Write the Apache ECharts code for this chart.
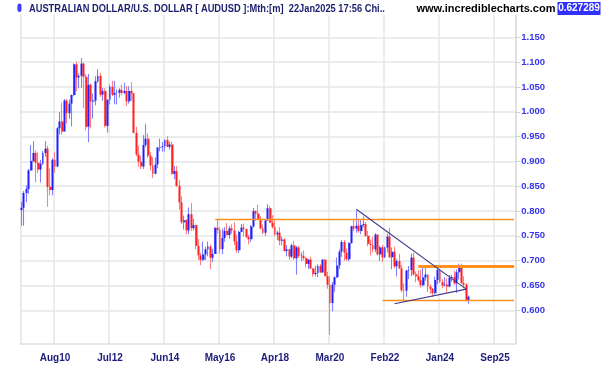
<!DOCTYPE html>
<html><head><meta charset="utf-8">
<script src="https://cdn.jsdelivr.net/npm/echarts@6/dist/echarts.min.js"></script>
<style>html,body{margin:0;padding:0;background:#fff;}#c{width:602px;height:365px;}</style>
</head><body><div id="c"></div>
<script>
// ---- data: monthly AUDUSD, Jun 2009 .. Jan 2025 ----
const firstMonth = [2009, 6];
const monthCount = 207; // axis runs to Aug 2026 (empty future space)
const opens = [
 0.8020,0.8065,0.8364,0.8443,0.8819,0.9010,0.9170,
 0.8975,0.8836,0.8954,0.9170,0.9258,0.8487,0.8424,0.9033,0.8897,0.9667,0.9804,0.9601,
 1.0225,0.9972,1.0165,1.0338,1.0956,1.0694,1.0724,1.0970,1.0703,0.9698,1.0543,1.0206,
 1.0227,1.0615,1.0723,1.0345,1.0420,0.9716,1.0243,1.0504,1.0344,1.0380,1.0383,1.0441,
 1.0378,1.0419,1.0210,1.0418,1.0371,0.9576,0.9136,0.8993,0.8898,0.9330,0.9458,0.9113,
 0.8917,0.8752,0.8939,0.9280,0.9292,0.9304,0.9433,0.9294,0.9341,0.8748,0.8805,0.8507,
 0.8175,0.7774,0.7815,0.7611,0.7937,0.7656,0.7717,0.7297,0.7107,0.7016,0.7127,0.7226,
 0.7286,0.7060,0.7137,0.7662,0.7618,0.7231,0.7457,0.7601,0.7516,0.7651,0.7607,0.7390,
 0.7210,0.7580,0.7666,0.7637,0.7480,0.7432,0.7690,0.7996,0.7947,0.7834,0.7651,0.7562,
 0.7809,0.8057,0.7764,0.7679,0.7528,0.7565,0.7402,0.7425,0.7193,0.7229,0.7082,0.7310,
 0.7048,0.7266,0.7095,0.7099,0.7052,0.6935,0.7022,0.6842,0.6732,0.6752,0.6894,0.6763,
 0.7021,0.6688,0.6515,0.6148,0.6516,0.6666,0.6903,0.7183,0.7377,0.7163,0.7029,0.7356,
 0.7694,0.7646,0.7704,0.7597,0.7720,0.7737,0.7500,0.7340,0.7315,0.7227,0.7522,0.7126,
 0.7267,0.7068,0.7263,0.7485,0.7069,0.7179,0.6886,0.6992,0.6842,0.6402,0.6397,0.6802,
 0.6812,0.7061,0.6726,0.6686,0.6607,0.6505,0.6662,0.6719,0.6478,0.6432,0.6346,0.6610,
 0.6812,0.6568,0.6502,0.6519,0.6479,0.6653,0.6670,0.6543,0.6766,0.6913,0.6549,0.6514,
 0.6188];
const closes = [
 0.8065,0.8364,0.8443,0.8819,0.9010,0.9170,0.8975,
 0.8836,0.8954,0.9170,0.9258,0.8487,0.8424,0.9033,0.8897,0.9667,0.9804,0.9601,1.0225,
 0.9972,1.0165,1.0338,1.0956,1.0694,1.0724,1.0970,1.0703,0.9698,1.0543,1.0206,1.0227,
 1.0615,1.0723,1.0345,1.0420,0.9716,1.0243,1.0504,1.0344,1.0380,1.0383,1.0441,1.0378,
 1.0419,1.0210,1.0418,1.0371,0.9576,0.9136,0.8993,0.8898,0.9330,0.9458,0.9113,0.8917,
 0.8752,0.8939,0.9280,0.9292,0.9304,0.9433,0.9294,0.9341,0.8748,0.8805,0.8507,0.8175,
 0.7774,0.7815,0.7611,0.7937,0.7656,0.7717,0.7297,0.7107,0.7016,0.7127,0.7226,0.7286,
 0.7060,0.7137,0.7662,0.7618,0.7231,0.7457,0.7601,0.7516,0.7651,0.7607,0.7390,0.7210,
 0.7580,0.7666,0.7637,0.7480,0.7432,0.7690,0.7996,0.7947,0.7834,0.7651,0.7562,0.7809,
 0.8057,0.7764,0.7679,0.7528,0.7565,0.7402,0.7425,0.7193,0.7229,0.7082,0.7310,0.7048,
 0.7266,0.7095,0.7099,0.7052,0.6935,0.7022,0.6842,0.6732,0.6752,0.6894,0.6763,0.7021,
 0.6688,0.6515,0.6148,0.6516,0.6666,0.6903,0.7183,0.7377,0.7163,0.7029,0.7356,0.7694,
 0.7646,0.7704,0.7597,0.7720,0.7737,0.7500,0.7340,0.7315,0.7227,0.7522,0.7126,0.7267,
 0.7068,0.7263,0.7485,0.7069,0.7179,0.6886,0.6992,0.6842,0.6402,0.6397,0.6802,0.6812,
 0.7061,0.6726,0.6686,0.6607,0.6505,0.6662,0.6719,0.6478,0.6432,0.6346,0.6610,0.6812,
 0.6568,0.6502,0.6519,0.6479,0.6653,0.6670,0.6543,0.6766,0.6913,0.6549,0.6514,0.6188,
 0.6273];
const highs = [
 0.8187,0.8404,0.8517,0.8848,0.9330,0.9406,0.9220,
 0.9183,0.9030,0.9208,0.9407,0.9316,0.8860,0.9060,0.9183,0.9691,0.9993,1.0182,1.0256,
 1.0256,1.0246,1.0349,1.0975,1.1012,1.0777,1.1081,1.0991,1.0764,1.0764,1.0572,1.0369,
 1.0717,1.0856,1.0783,1.0478,1.0475,1.0245,1.0545,1.0624,1.0625,1.0447,1.0474,1.0547,
 1.0584,1.0518,1.0514,1.0596,1.0372,0.9701,0.9318,0.9113,0.9529,0.9757,0.9562,0.9191,
 0.9085,0.9083,0.9283,0.9459,0.9393,0.9445,0.9505,0.9399,0.9400,0.8908,0.8911,0.8625,
 0.8295,0.7911,0.7839,0.8073,0.8164,0.7848,0.7728,0.7439,0.7152,0.7382,0.7281,0.7385,
 0.7324,0.7242,0.7681,0.7835,0.7677,0.7649,0.7676,0.7758,0.7700,0.7733,0.7778,0.7525,
 0.7602,0.7741,0.7750,0.7646,0.7516,0.7720,0.8066,0.8017,0.8125,0.7897,0.7730,0.7815,
 0.8136,0.8104,0.7917,0.7813,0.7605,0.7677,0.7484,0.7453,0.7315,0.7237,0.7340,0.7394,
 0.7296,0.7296,0.7168,0.7207,0.7069,0.7025,0.7082,0.6849,0.6895,0.6930,0.6929,0.7032,
 0.7032,0.6774,0.6685,0.6570,0.6684,0.7064,0.7226,0.7414,0.7413,0.7243,0.7370,0.7702,
 0.7820,0.8007,0.7849,0.7817,0.7891,0.7777,0.7599,0.7427,0.7478,0.7556,0.7536,0.7304,
 0.7315,0.7283,0.7540,0.7661,0.7266,0.7283,0.7034,0.7137,0.6917,0.6547,0.6808,0.6893,
 0.7142,0.7158,0.6783,0.6806,0.6818,0.6899,0.6895,0.6724,0.6522,0.6445,0.6677,0.6871,
 0.6817,0.6626,0.6667,0.6644,0.6714,0.6714,0.6798,0.6824,0.6942,0.6937,0.6688,0.6549,
 0.6300];
const lows = [
 0.7707,0.7704,0.8177,0.8348,0.8806,0.8991,0.8577,
 0.8768,0.8578,0.8930,0.9094,0.8087,0.8316,0.8320,0.8770,0.8885,0.9544,0.9541,0.9738,
 0.9763,0.9859,0.9706,1.0315,1.0418,1.0474,1.0482,1.0076,0.9627,0.9388,0.9663,0.9862,
 1.0130,1.0585,1.0300,1.0222,0.9688,0.9581,1.0150,1.0316,1.0150,1.0148,1.0283,1.0331,
 1.0356,1.0115,1.0164,1.0221,0.9563,0.9102,0.8890,0.8848,0.8848,0.9289,0.9073,0.8819,
 0.8660,0.8742,0.8863,0.9204,0.9197,0.9199,0.9282,0.9239,0.8733,0.8643,0.8481,0.8031,
 0.7740,0.7626,0.7533,0.7532,0.7600,0.7609,0.7234,0.7017,0.6908,0.6992,0.7016,0.7088,
 0.6827,0.6974,0.7134,0.7545,0.7145,0.7130,0.7380,0.7508,0.7442,0.7543,0.7309,0.7160,
 0.7159,0.7573,0.7491,0.7457,0.7329,0.7371,0.7661,0.7807,0.7830,0.7623,0.7533,0.7501,
 0.7804,0.7757,0.7644,0.7502,0.7412,0.7310,0.7310,0.7190,0.7085,0.7020,0.7051,0.7015,
 0.6716,0.7054,0.6988,0.7006,0.6865,0.6832,0.6835,0.6676,0.6688,0.6671,0.6755,0.6756,
 0.6682,0.6434,0.5506,0.5980,0.6372,0.6648,0.6832,0.7077,0.7006,0.7002,0.6991,0.7340,
 0.7592,0.7564,0.7563,0.7531,0.7675,0.7478,0.7289,0.7106,0.7170,0.7170,0.7108,0.6993,
 0.6968,0.7051,0.7165,0.7054,0.6829,0.6850,0.6681,0.6840,0.6364,0.6170,0.6272,0.6629,
 0.6688,0.6698,0.6564,0.6574,0.6458,0.6480,0.6596,0.6364,0.6331,0.6270,0.6318,0.6526,
 0.6552,0.6443,0.6478,0.6362,0.6465,0.6574,0.6512,0.6348,0.6621,0.6537,0.6442,0.6180,
 0.6131];
const tickCats   = ['2010-08','2012-07','2014-06','2016-05','2018-04','2020-03','2022-02','2024-01','2025-12'];
const tickLabels = ['Aug10','Jul12','Jun14','May16','Apr18','Mar20','Feb22','Jan24','Sep25'];
const yTicks = [0.60,0.65,0.70,0.75,0.80,0.85,0.90,0.95,1.00,1.05,1.10,1.15];
const yMin = 0.5321, yMax = 1.195;
// drawn annotations
const levelStarts = ['2016-03','2023-04','2022-01'];
const levelValues = [0.7835, 0.6895, 0.6205];
const trendStarts = [['2021-02',0.8035],['2022-06',0.6131]];
const trendEnds   = [['2024-12',0.6426],['2024-12',0.6426]];
const titleText = 'AUSTRALIAN DOLLAR/U.S. DOLLAR [ AUDUSD ]:Mth:[m]  22Jan2025 17:56 Chi..';
const siteText = 'www.incrediblecharts.com';
const lastPrice = '0.627289';

// ---- build ----
const cats = [];
for (let i = 0; i < monthCount; i++) {
  const m0 = firstMonth[1] - 1 + i;
  const y = firstMonth[0] + Math.floor(m0 / 12), m = m0 % 12 + 1;
  cats.push(y + '-' + (m < 10 ? '0' : '') + m);
}
const lastCat = cats[cats.length - 1];
const wickData = opens.map((o, i) => [o, closes[i], lows[i], highs[i]]);
const bodyData = opens.map((o, i) => [o, closes[i], Math.min(o, closes[i]), Math.max(o, closes[i])]);
const isTick = (idx, val) => tickCats.indexOf(val) >= 0;
const FONT = '"Liberation Sans", Arial, sans-serif';

const ORANGE = '#ff9020', NAVY = '#3b3b8f';
const levelWidths = [1.3, 2.8, 1.3];
const markData = [];
levelStarts.forEach((c, i) => {
  const ls = {color: ORANGE, width: levelWidths[i], type: 'solid', opacity: 1};
  markData.push([{coord: [c, levelValues[i]], lineStyle: ls}, {coord: [lastCat, levelValues[i]], lineStyle: ls}]);
});
trendStarts.forEach((s, i) => {
  const ls = {color: NAVY, width: 1.1, type: 'solid', opacity: 1};
  markData.push([{coord: s, lineStyle: ls}, {coord: trendEnds[i], lineStyle: ls}]);
});

const chart = echarts.init(document.getElementById('c'), null, {renderer: 'canvas'});
chart.setOption({
  animation: false,
  backgroundColor: '#ffffff',
  grid: {left: 20.3, right: 86.7, top: 15, bottom: 21, containLabel: false, outerBoundsMode: 'none'},
  xAxis: {
    type: 'category', data: cats, boundaryGap: true,
    axisLine: {show: true, lineStyle: {color: '#dedede', width: 1.5}},
    axisTick: {show: false},
    axisLabel: {interval: isTick, formatter: v => tickLabels[tickCats.indexOf(v)] || '',
      color: '#1c1c7c', fontWeight: 'bold', fontSize: 10, fontFamily: FONT, margin: 9},
    splitLine: {show: true, interval: isTick, lineStyle: {color: '#e6e6e6', width: 1.5}}
  },
  yAxis: [{
    type: 'value', position: 'right', min: yMin, max: yMax, scale: true,
    axisLine: {show: true, lineStyle: {color: '#dedede', width: 1.5}},
    axisTick: {show: true, inside: false, length: 5, customValues: yTicks, lineStyle: {color: '#d0d0d0'}},
    axisLabel: {customValues: yTicks, formatter: v => v.toFixed(3), color: '#3535ee',
      fontWeight: 'bold', fontSize: 9.5, fontFamily: FONT, margin: 6},
    splitLine: {show: true, lineStyle: {color: '#e6e6e6', width: 1.5}}
  }, {
    type: 'value', position: 'left', min: yMin, max: yMax,
    axisLine: {show: true, lineStyle: {color: '#e2e2e2', width: 1.5}},
    axisTick: {show: false}, axisLabel: {show: false}, splitLine: {show: false}
  }],
  series: [{
    type: 'candlestick', name: 'range', data: wickData, barWidth: 1, yAxisIndex: 0,
    itemStyle: {color: '#7f7fff', color0: '#ff7f7f', borderColor: '#7f7fff', borderColor0: '#ff7f7f', borderWidth: 1.1},
    emphasis: {disabled: true}, silent: true,
    markLine: {symbol: ['none', 'none'], silent: true, label: {show: false}, animation: false,
      lineStyle: {color: ORANGE, type: 'solid', opacity: 1}, emphasis: {disabled: true}, data: markData}
  }, {
    type: 'candlestick', name: 'body', data: bodyData, barWidth: 2.4, yAxisIndex: 0,
    itemStyle: {color: '#2020ff', color0: '#ff2020', borderColor: '#2020ff', borderColor0: '#ff2020', borderWidth: 0},
    emphasis: {disabled: true}, silent: true
  }],
  graphic: [
    {type: 'rect', shape: {x: 17.5, y: 3.5, width: 4, height: 8.5, r: 2}, style: {fill: '#3c3cff'}},
    {type: 'text', x: 29, y: 8.5, scaleX: 0.845, style: {text: titleText, x: 0, y: 0, fill: '#1d1d70',
      font: 'bold 11px ' + FONT, textVerticalAlign: 'middle'}},
    {type: 'text', x: 416.5, y: 8.5, style: {text: siteText, x: 0, y: 0, fill: '#000000',
      font: 'bold 11px ' + FONT, textVerticalAlign: 'middle'}},
    {type: 'rect', shape: {x: 557.5, y: 2, width: 43, height: 13}, style: {fill: '#3030ff'}},
    {type: 'text', x: 579, y: 8.5, style: {text: lastPrice, x: 0, y: 0, fill: '#ffffff',
      font: 'bold 10px ' + FONT, textAlign: 'center', textVerticalAlign: 'middle'}}
  ]
});
</script></body></html>
